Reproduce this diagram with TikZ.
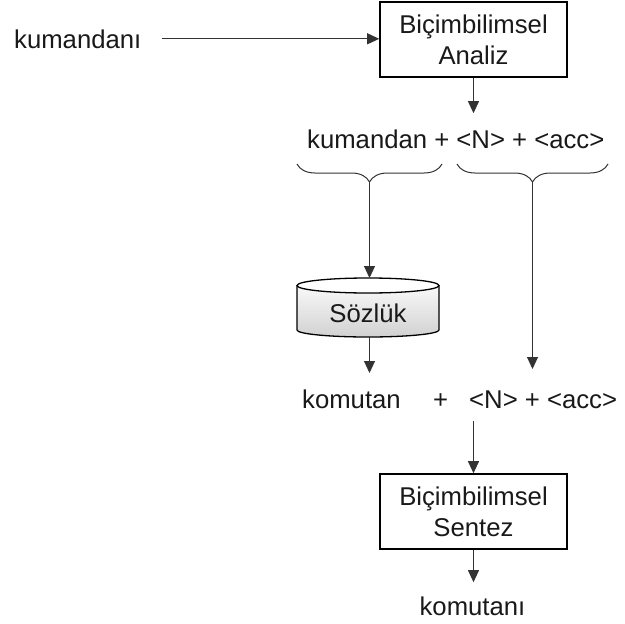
\documentclass[tikz,border=0pt]{standalone}
\usepackage{fontspec}
\setmainfont{Liberation Sans}
\usetikzlibrary{arrows.meta,decorations.pathreplacing}
\begin{document}
\begin{tikzpicture}[x=1pt,y=-1pt,
  every node/.style={font=\fontsize{25.7}{31}\selectfont, text=black!90},
  txt/.style={inner sep=0pt, anchor=base west},
  morphbox/.style={draw=black, line width=1.6pt, minimum width=187pt, minimum height=75pt, align=center, inner sep=0pt},
  arr/.style={draw=black!80, line width=1pt, -{Triangle[length=12pt,width=11pt]}},
  bracestyle/.style={draw=black!80, line width=1pt, decorate, decoration={brace, mirror, amplitude=18pt}}
]
\useasboundingbox (0,0) rectangle (625,624);

% input word
\node[txt] (kum) at (14,48) {kumandanı};
% analysis box
\node[morphbox] (b1) at (473.5,39.5) {Biçimbilimsel\\Analiz};
\draw[arr, shorten <=20pt] (kum.east) -- (b1.west |- kum.east);

% analysed form
\node[txt] (t1) at (307,148) {kumandan + <N> + <acc>};
\draw[arr, shorten >=16pt] (b1.south) -- (b1.south |- t1.north);

% braces
\coordinate (bl1) at (297,164);
\coordinate (bl2) at (442,164);
\coordinate (br1) at (457,164);
\coordinate (br2) at (608,164);
\draw[bracestyle] (bl1) -- (bl2);
\draw[bracestyle] (br1) -- (br2);
\coordinate (lt) at (369.5,182);
\coordinate (rt) at (532.5,182);

% dictionary cylinder
\shade[top color=white, bottom color=black!18]
  (297,285.5) -- (297,330) arc[start angle=180, end angle=360, x radius=71pt, y radius=7pt]
  -- (439,285.5) arc[start angle=0, end angle=180, x radius=71pt, y radius=7.5pt] -- cycle;
\draw[black, line width=1.3pt, fill=white] (368,285.5) ellipse[x radius=71pt, y radius=7.5pt];
\draw[black, line width=1.3pt] (297,285.5) -- (297,330) arc[start angle=180, end angle=360, x radius=71pt, y radius=7pt] -- (439,285.5);
\node[inner sep=0pt] (soz) at (368,313) {Sözlük};
\coordinate (cyltop) at (369.5,278);
\coordinate (cylbot) at (369.5,337);

\draw[arr] (lt) -- (cyltop);
\coordinate (a1end) at (369.5,373);
\draw[arr] (cylbot) -- (a1end);
\coordinate (a2end) at (532.5,369);
\draw[arr] (rt) -- (a2end);

% synthesised form
\node[txt] (k2) at (302,408) {komutan};
\node[txt] (plus) at (433,408) {+};
\node[txt] (tags) at (469,408) {<N> + <acc>};

% synthesis box
\node[morphbox] (b2) at (473.5,511.5) {Biçimbilimsel\\Sentez};
\coordinate (s2) at (473.5,421);
\draw[arr] (s2) -- (b2.north);

% output word
\node[inner sep=0pt, anchor=base] (out) at (472.5,615) {komutanı};
\draw[arr, shorten >=14pt] (b2.south) -- (b2.south |- out.north);
\end{tikzpicture}
\end{document}
